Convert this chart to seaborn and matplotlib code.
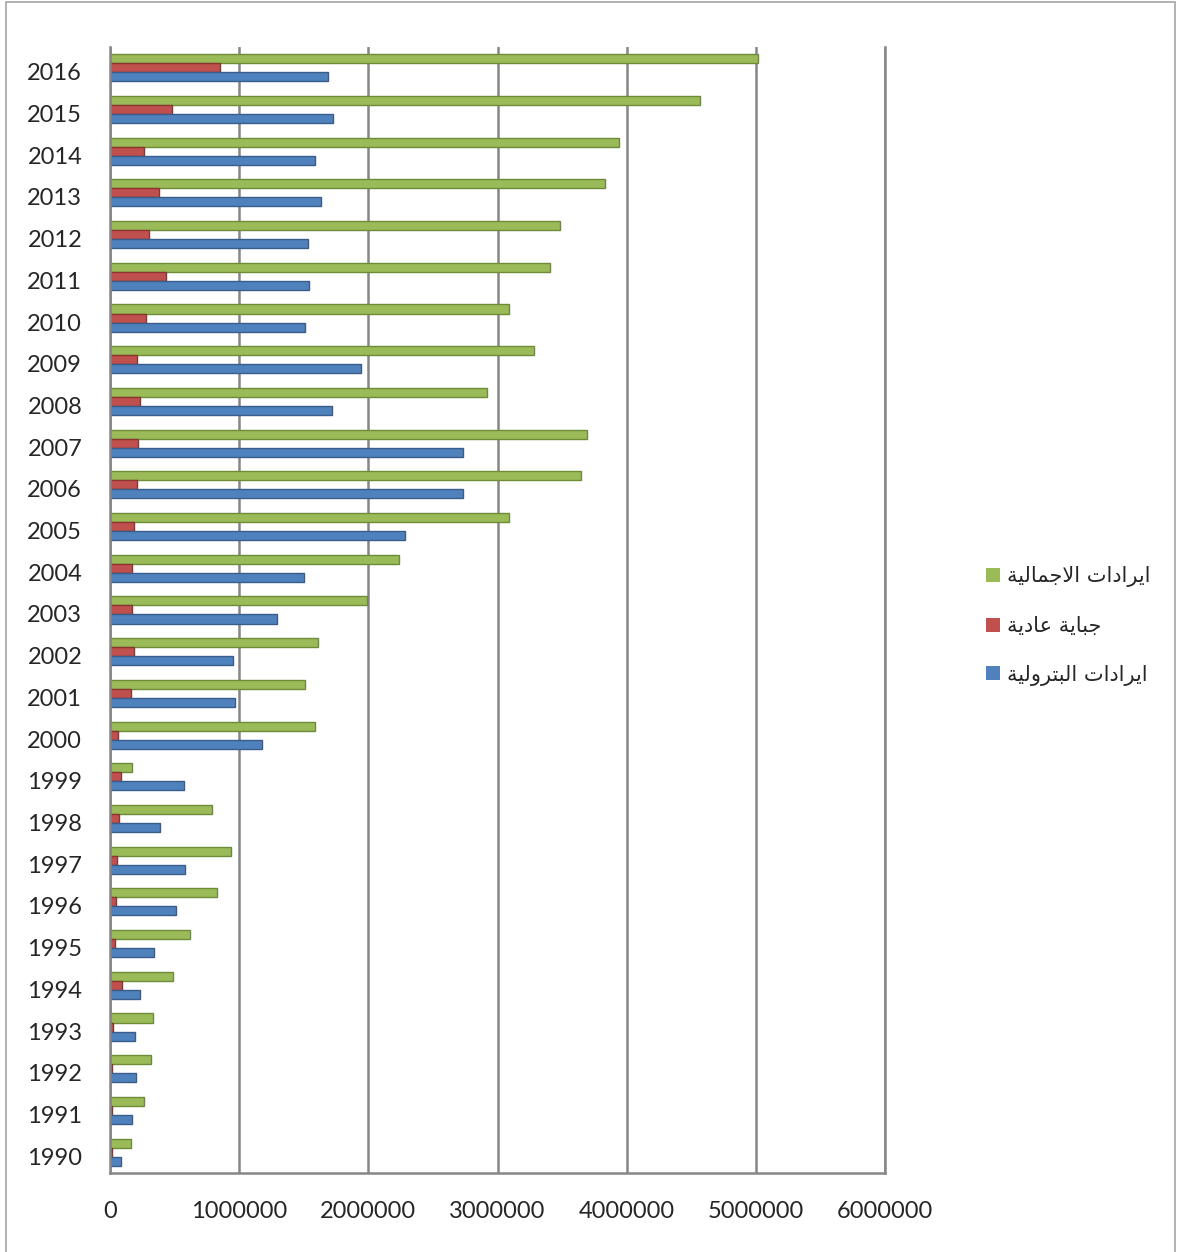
import pandas as pd
import seaborn as sns
import matplotlib.pyplot as plt
from matplotlib.patches import Rectangle
from matplotlib.transforms import ScaledTranslation

years = list(range(1990, 2017))
# ايرادات الاجمالية (total revenue)
total = [165000, 260000, 320000, 330000, 485000, 620000, 830000, 940000, 790000, 170000,
         1590000, 1510000, 1610000, 1990000, 2240000, 3090000, 3650000, 3690000, 2920000, 3280000,
         3090000, 3410000, 3480000, 3830000, 3940000, 4570000, 5020000]
# جباية عادية (ordinary taxation)
ordinary = [15000, 13000, 17000, 20000, 90000, 40000, 47000, 55000, 70000, 85000,
            60000, 160000, 185000, 170000, 170000, 185000, 210000, 220000, 230000, 210000,
            280000, 435000, 305000, 380000, 265000, 480000, 850000]
# ايرادات البترولية (oil revenue)
oil = [85000, 170000, 200000, 190000, 230000, 340000, 510000, 580000, 390000, 570000,
       1180000, 970000, 950000, 1290000, 1500000, 2280000, 2730000, 2730000, 1720000, 1940000,
       1510000, 1540000, 1530000, 1630000, 1590000, 1730000, 1690000]

series_names = ['ايرادات الاجمالية', 'جباية عادية', 'ايرادات البترولية']
colors = ['#9BBB59', '#C0504D', '#4F81BD']
edges = ['#6E8B38', '#8C3431', '#385D8A']
xticks = [0, 1000000, 2000000, 3000000, 4000000, 5000000, 6000000]

# small contextual shaper so matplotlib shows joined Arabic right to left
FORMS = {
    'ا': ('\uFE8D', '\uFE8E', None, None),
    'ب': ('\uFE8F', '\uFE90', '\uFE91', '\uFE92'),
    'ة': ('\uFE93', '\uFE94', None, None),
    'ت': ('\uFE95', '\uFE96', '\uFE97', '\uFE98'),
    'ج': ('\uFE9D', '\uFE9E', '\uFE9F', '\uFEA0'),
    'د': ('\uFEA9', '\uFEAA', None, None),
    'ر': ('\uFEAD', '\uFEAE', None, None),
    'ع': ('\uFEC9', '\uFECA', '\uFECB', '\uFECC'),
    'ل': ('\uFEDD', '\uFEDE', '\uFEDF', '\uFEE0'),
    'م': ('\uFEE1', '\uFEE2', '\uFEE3', '\uFEE4'),
    'و': ('\uFEED', '\uFEEE', None, None),
    'ي': ('\uFEF1', '\uFEF2', '\uFEF3', '\uFEF4'),
    'لا': ('\uFEFB', '\uFEFC', None, None),
}


def shape(text):
    units = []
    i = 0
    while i < len(text):
        if text[i] == 'ل' and i + 1 < len(text) and text[i + 1] == 'ا':
            units.append('لا')
            i += 2
        else:
            units.append(text[i])
            i += 1
    out = []
    for k, u in enumerate(units):
        if u not in FORMS:
            out.append(u)
            continue
        prev = units[k - 1] if k > 0 else None
        nxt = units[k + 1] if k + 1 < len(units) else None
        jp = prev in FORMS and FORMS[prev][2] is not None
        jn = FORMS[u][2] is not None and nxt in FORMS
        iso, fin, ini, med = FORMS[u]
        if jp and jn:
            out.append(med)
        elif jp:
            out.append(fin)
        elif jn:
            out.append(ini)
        else:
            out.append(iso)
    return ''.join(reversed(out))


rows = []
for name, vals in zip(series_names, [total, ordinary, oil]):
    for y, v in zip(years, vals):
        rows.append({'year': str(y), 'value': v, 'series': name})
df = pd.DataFrame(rows)

sns.set_style('white')
plt.rcParams['font.family'] = ['Lato', 'DejaVu Sans']

fig = plt.figure(figsize=(11.8, 12.52), dpi=100)
ax = fig.add_axes([110 / 1180, 0.0631, 775 / 1180, 0.8994])

order = [str(y) for y in reversed(years)]
sns.barplot(data=df, y='year', x='value', hue='series', hue_order=series_names,
            order=order, orient='h', palette=colors, width=0.65, saturation=1,
            ax=ax, legend=False)

for cont, ec in zip(ax.containers, edges):
    for p in cont:
        p.set_edgecolor(ec)
        p.set_linewidth(1.0)

grid_c = '#868686'
ax.set_xlim(0, 6000000)
ax.set_ylim(26.5, -0.5)
ax.set_xticks(xticks)
ax.set_xticklabels([str(t) for t in xticks], fontsize=17)
ax.xaxis.grid(True, color=grid_c, lw=1.8)
ax.set_axisbelow(True)
ax.set_xlabel('')
ax.set_ylabel('')
ax.tick_params(axis='y', length=0, pad=20, labelsize=17)
ax.set_yticks([i + 0.5 for i in range(-1, 27)], minor=True)
ax.tick_params(axis='y', which='minor', length=7, color=grid_c, width=1.5, direction='out')
ax.tick_params(axis='x', length=6, color=grid_c, width=1.5, direction='out', pad=14)
for s in ['left', 'bottom', 'right']:
    ax.spines[s].set_color(grid_c)
    ax.spines[s].set_linewidth(1.8)
ax.spines['top'].set_visible(False)

# the year labels sit a little below their group in the original
shift = ScaledTranslation(0, -4 / 100, fig.dpi_scale_trans)
for lab in ax.get_yticklabels():
    lab.set_transform(lab.get_transform() + shift)

handles = [Rectangle((0, 0), 1, 1, facecolor=c, edgecolor='none') for c in colors]
fig.legend(handles, [shape(n) for n in series_names], loc='center left',
           bbox_to_anchor=(976 / 1180, 1 - 626 / 1252), frameon=False,
           prop={'family': ['DejaVu Sans'], 'size': 15},
           handlelength=0.65, handleheight=0.65, handletextpad=0.35,
           labelspacing=1.38, borderpad=0)

fig.add_artist(Rectangle((6 / 1180, -0.01), 1169 / 1180, 1.01 - 2 / 1252,
                         transform=fig.transFigure, fill=False,
                         edgecolor='#a6a6a6', lw=1.2))

fig.savefig('out.png', dpi=100)
